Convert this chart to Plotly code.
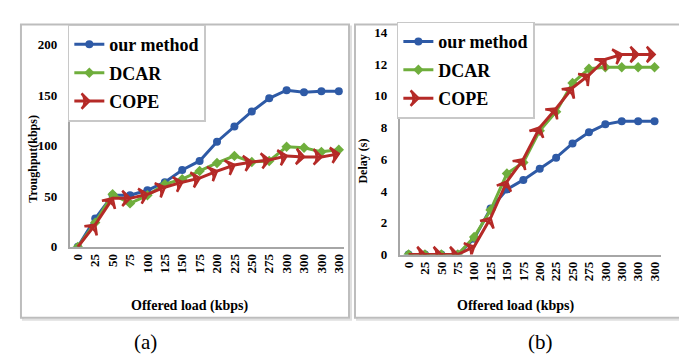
import plotly.graph_objects as go

# ---- data ----
load_labels = ["0", "25", "50", "75", "100", "125", "150", "175", "200",
               "225", "250", "275", "300", "300", "300", "300"]

thr_our = [0, 28, 51, 51, 56, 64, 76, 85, 104, 119, 134, 147, 155, 153, 154, 154]
thr_dcar = [0, 24, 52, 43, 51, 62, 67, 75, 83, 90, 84, 85, 99, 98, 94, 96]
thr_cope = [0, 22, 48, 48, 52, 59, 64, 68, 75, 81, 84, 86, 90, 89, 89, 92]

dly_our = [0, 0, 0, 0, 1.0, 2.9, 4.1, 4.7, 5.4, 6.1, 7.0, 7.7, 8.2, 8.4, 8.4, 8.4]
dly_dcar = [0, 0, 0, 0, 1.1, 2.8, 5.1, 5.8, 7.8, 9.0, 10.8, 11.7, 11.8, 11.8, 11.8, 11.8]
dly_cope = [0, 0, 0, 0, 0.5, 2.3, 4.6, 6.0, 8.0, 9.2, 10.5, 11.3, 12.3, 12.6, 12.6, 12.6]

series_names = ["our method", "DCAR", "COPE"]

# ---- styles ----
C_BLUE = "#2E5AA6"
C_GREEN = "#6FAE3C"
C_RED = "#B52A27"
FONT = "Liberation Serif"
W, H = 687, 358

idx = list(range(len(load_labels)))

def px_x(p):
    return p / W

def px_y(p):
    return 1 - p / H

fig = go.Figure()

def add_set(vals, xa, ya, legend):
    styles = [
        dict(color=C_BLUE, marker=dict(symbol="circle", size=8, color=C_BLUE)),
        dict(color=C_GREEN, marker=dict(symbol="diamond", size=8, color=C_GREEN)),
        dict(color=C_RED, marker=dict(symbol="arrow-wide-open", size=11, angleref="previous",
                                       color=C_RED, line=dict(color=C_RED, width=2.5))),
    ]
    for name, v, st in zip(series_names, vals, styles):
        fig.add_trace(go.Scatter(
            x=idx, y=v, name=name, mode="lines+markers",
            line=dict(color=st["color"], width=3),
            marker=st["marker"], xaxis=xa, yaxis=ya, legend=legend,
            legendgroup=name + legend,
        ))

add_set([thr_our, thr_dcar, thr_cope], "x", "y", "legend")
add_set([dly_our, dly_dcar, dly_cope], "x2", "y2", "legend2")

tickfont = dict(family=FONT, size=13, color="black", weight="bold")
xcommon = dict(tickmode="array", tickvals=idx, ticktext=load_labels, tickangle=-90,
               showgrid=False, zeroline=False, showline=True, linecolor="#a6a6a6",
               linewidth=2, ticks="", tickfont=tickfont, fixedrange=True)
ycommon = dict(showgrid=False, zeroline=False, showline=True, linecolor="#a6a6a6",
               linewidth=2, ticks="", tickfont=dict(family=FONT, size=13, color="black", weight="bold"),
               ticklabelstandoff=8)

legend_common = dict(
    font=dict(family=FONT, size=18, color="black", weight="bold"),
    bgcolor="white", bordercolor="#c8c8c8", borderwidth=1.5,
    xanchor="left", yanchor="top", tracegroupgap=2, itemwidth=30,
)

fig.update_layout(
    width=W, height=H, margin=dict(l=0, r=0, t=0, b=0),
    paper_bgcolor="white", plot_bgcolor="white", showlegend=True,
    xaxis=dict(domain=[px_x(62), px_x(337)], range=[-0.46, 15.3], anchor="y", **xcommon),
    yaxis=dict(domain=[px_y(242), px_y(31)], range=[0, 200], tickvals=[0, 50, 100, 150, 200],
               anchor="x", **ycommon),
    xaxis2=dict(domain=[px_x(393), px_x(655)], range=[-0.53, 15.4], anchor="y2", **xcommon),
    yaxis2=dict(domain=[px_y(250), px_y(18)], range=[0, 14], tickvals=list(range(0, 15, 2)),
                anchor="x2", **ycommon),
    legend=dict(x=px_x(60), y=px_y(10), **legend_common),
    legend2=dict(x=px_x(390), y=px_y(7), **legend_common),
)

# panel frames
for x0, x1 in [(13, 342), (348, 681)]:
    fig.add_shape(type="rect", xref="paper", yref="paper",
                  x0=px_x(x0 + 2), x1=px_x(x1 + 2), y0=px_y(318), y1=px_y(12),
                  line=dict(color="#e0e0e0", width=2), layer="below")
    fig.add_shape(type="rect", xref="paper", yref="paper",
                  x0=px_x(x0), x1=px_x(x1), y0=px_y(316), y1=px_y(10),
                  line=dict(color="#bdbdbd", width=2), fillcolor="white", layer="below")

ann_font = dict(family=FONT, size=14, color="black", weight="bold")
side_font = dict(family=FONT, size=12, color="black", weight="bold")
fig.add_annotation(text="Troughput(kbps)", xref="paper", yref="paper", xanchor="center", yanchor="middle",
                   x=px_x(25), y=px_y(150), textangle=-90, showarrow=False, font=side_font)
fig.add_annotation(text="Delay (s)", xref="paper", yref="paper", xanchor="center", yanchor="middle",
                   x=px_x(356), y=px_y(152), textangle=-90, showarrow=False, font=side_font)
fig.add_annotation(text="Offered load (kbps)", xref="paper", yref="paper", xanchor="center", yanchor="middle",
                   x=px_x(183), y=px_y(304), showarrow=False, font=ann_font)
fig.add_annotation(text="Offered load (kbps)", xref="paper", yref="paper", xanchor="center", yanchor="middle",
                   x=px_x(509), y=px_y(304), showarrow=False, font=ann_font)
fig.add_annotation(text="(a)", xref="paper", yref="paper", xanchor="center", yanchor="middle",
                   x=px_x(138), y=px_y(341), showarrow=False,
                   font=dict(family=FONT, size=21, color="black"))
fig.add_annotation(text="(b)", xref="paper", yref="paper", xanchor="center", yanchor="middle",
                   x=px_x(534), y=px_y(341), showarrow=False,
                   font=dict(family=FONT, size=21, color="black"))

fig.write_html("out.html")
